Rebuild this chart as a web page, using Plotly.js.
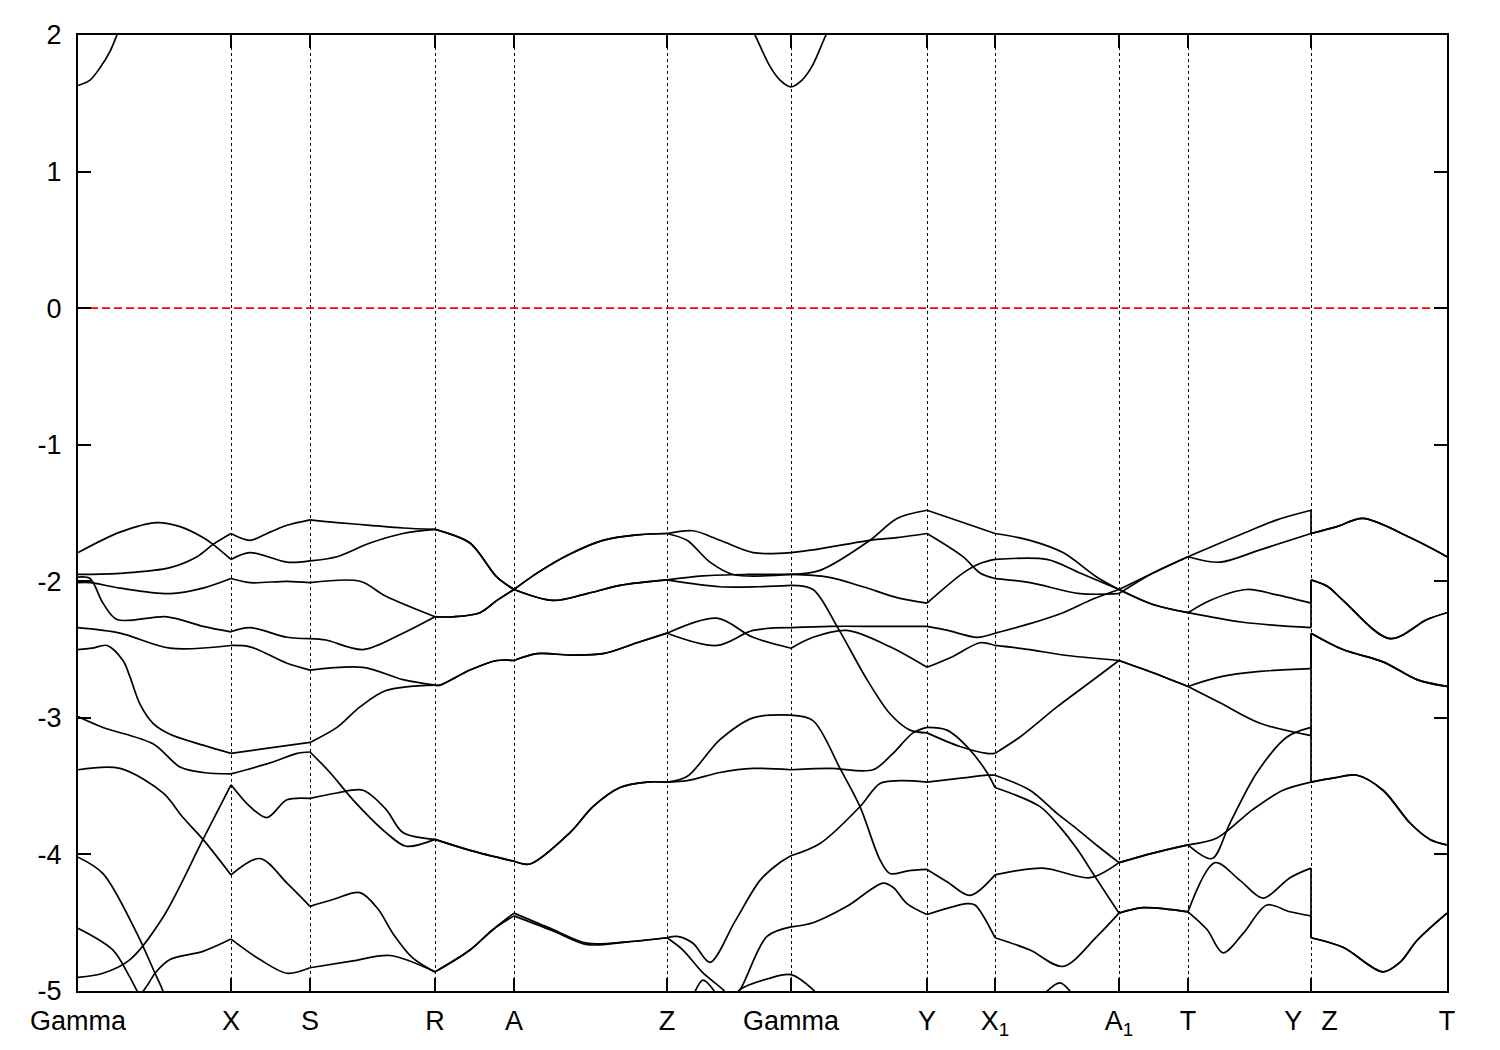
<!DOCTYPE html>
<html>
<head>
<meta charset="utf-8">
<script src="https://cdn.plot.ly/plotly-3.0.1.min.js"></script>
<style>html,body{margin:0;padding:0;background:#fff;}#chart{width:1500px;height:1050px;}</style>
</head>
<body>
<div id="chart"></div>
<script>
// High-symmetry path (path distance units) and labels
const kTicks = [0, 153, 232, 357, 436, 589, 713, 849, 917, 1041, 1110, 1233, 1369];
const kLabels = ['Gamma', 'X', 'S', 'R', 'A', 'Z', 'Gamma', 'Y', 'X<sub>1</sub>', 'A<sub>1</sub>', 'T', 'Y\u2002\u2009Z', 'T'];
const eTicks = [2, 1, 0, -1, -2, -3, -4, -5];
const fermiLevel = 0;

// Band energies (eV)
const band1K = [0,42,79,102,125,135,153, 172,209,232, 259,292,325,357, 362,392,419,436, 475,509,542,589, 625,670,713, 742,792,819,849, 885,917, 952,985,1019,1041, 1075,1110, 1165,1199,1233, 1233,1259,1285,1332,1369];
const band1E = [-1.79,-1.64,-1.57,-1.60,-1.68,-1.73,-1.84, -1.79,-1.86,-1.85, -1.82,-1.72,-1.65,-1.62, -1.63,-1.72,-1.97,-2.06, -2.14,-2.09,-2.03,-1.99, -1.96,-1.95,-1.95, -1.92,-1.70,-1.54,-1.48, -1.57,-1.65, -1.70,-1.79,-1.97,-2.06, -1.94,-1.82, -1.65,-1.55,-1.48, -1.65,-1.60,-1.54,-1.68,-1.82];

const band2K = [0,46,92,119,135,153, 172,192,209,232, 259,292,325,357, 362,392,419,436, 475,509,542,589, 642,680,713, 735,759,789,812,832,849, 882,909,917, 942,979,1010,1041, 1075,1110, 1142,1182,1233, 1233,1265,1305,1339,1369];
const band2E = [-1.95,-1.94,-1.90,-1.82,-1.73,-1.65, -1.70,-1.64,-1.59,-1.55, -1.57,-1.59,-1.61,-1.62, -1.63,-1.72,-1.97,-2.06, -2.14,-2.09,-2.03,-1.99, -2.04,-2.04,-2.03, -2.06,-2.33,-2.72,-2.97,-3.09,-3.11, -3.21,-3.26,-3.26, -3.14,-2.92,-2.75,-2.58, -2.67,-2.77, -2.89,-3.04,-3.13, -2.38,-2.50,-2.59,-2.72,-2.77];

const band3K = [0,12,25,39,89,125,153, 172,209,232, 248,285,325,357, 375,402,419,436, 459,492,525,559,589, 615,642,675,713, 735,792,819,849, 885,902,917, 952,1002,1041, 1075,1110, 1142,1182,1233, 1233,1259,1285,1332,1369];
const band3E = [-1.97,-1.98,-2.16,-2.28,-2.26,-2.33,-2.37, -2.34,-2.41,-2.42, -2.43,-2.50,-2.38,-2.26, -2.26,-2.23,-2.14,-2.06, -1.94,-1.80,-1.70,-1.66,-1.65, -1.63,-1.70,-1.79,-1.79, -1.77,-1.70,-1.68,-1.65, -1.82,-1.94,-1.98, -2.01,-2.09,-2.09, -1.94,-1.82, -1.86,-1.77,-1.65, -1.65,-1.60,-1.54,-1.68,-1.82];

const band4K = [0,12,42,92,125,153, 172,209,232, 282,308,357, 375,402,419,436, 459,492,525,559,589, 609,632,655,713, 750,785,819,849, 885,902,917, 969,1002,1041, 1075,1110, 1132,1169,1199,1233, 1233,1250,1265,1312,1349,1369];
const band4E = [-2.01,-2.01,-2.05,-2.09,-2.05,-1.98, -2.01,-2.00,-2.01, -2.00,-2.11,-2.26, -2.26,-2.23,-2.14,-2.06, -1.94,-1.80,-1.70,-1.66,-1.65, -1.70,-1.86,-1.95,-1.95, -1.97,-2.04,-2.12,-2.16, -1.94,-1.87,-1.84, -1.84,-1.94,-2.06, -2.17,-2.23, -2.14,-2.06,-2.10,-2.16, -1.99,-2.04,-2.14,-2.42,-2.28,-2.23];

const band5K = [0,42,92,153, 172,209,232, 285,325,357, 362,392,419,436, 459,492,525,559,589, 639,675,713, 735,769,812,849, 875,902,917, 952,985,1041, 1075,1110, 1142,1182,1233, 1233,1265,1305,1339,1369];
const band5E = [-2.34,-2.38,-2.49,-2.47, -2.48,-2.60,-2.65, -2.63,-2.72,-2.76, -2.76,-2.65,-2.58,-2.58, -2.53,-2.54,-2.53,-2.45,-2.38, -2.27,-2.41,-2.49, -2.41,-2.36,-2.48,-2.63, -2.55,-2.45,-2.47, -2.50,-2.54,-2.58, -2.67,-2.77, -2.70,-2.66,-2.64, -2.38,-2.50,-2.59,-2.72,-2.77];

const band6K = [0,14,29,45,52,62,75,92,125,153, 192,232, 259,282,308,357, 362,392,419,436, 459,492,525,559,589, 639,675,713, 752,802,849, 870,899,917, 952,985,1015,1041, 1075,1110, 1165,1233, 1233,1250,1265,1312,1349,1369];
const band6E = [-2.50,-2.49,-2.47,-2.58,-2.70,-2.90,-3.04,-3.12,-3.20,-3.26, -3.22,-3.18, -3.07,-2.92,-2.80,-2.76, -2.76,-2.65,-2.58,-2.58, -2.53,-2.54,-2.53,-2.45,-2.38, -2.47,-2.36,-2.34, -2.33,-2.33,-2.33, -2.36,-2.41,-2.38, -2.31,-2.23,-2.13,-2.06, -2.17,-2.23, -2.30,-2.34, -1.99,-2.04,-2.14,-2.42,-2.28,-2.23];

const band7K = [0,25,75,102,125,153, 192,219,232, 252,275,308,328,357, 392,436, 452,492,515,542,569,589, 609,642,675,713, 735,762,782,802,812,830,849, 869,892,917, 965,1012,1041, 1075,1110, 1134,1152,1179,1209,1233, 1233,1256,1279,1305,1332,1352,1369];
const band7E = [-2.99,-3.07,-3.19,-3.36,-3.40,-3.41, -3.33,-3.26,-3.25, -3.40,-3.60,-3.84,-3.94,-3.89, -3.97,-4.05, -4.07,-3.84,-3.65,-3.51,-3.47,-3.47, -3.43,-3.16,-3.00,-2.98, -3.02,-3.37,-3.65,-4.04,-4.14,-4.12,-4.11, -4.20,-4.30,-4.15, -4.10,-4.17,-4.06, -3.99,-3.93, -4.03,-3.77,-3.40,-3.14,-3.07, -3.47,-3.44,-3.42,-3.53,-3.77,-3.89,-3.93];

const band8K = [0,42,85,105,125,153, 182,209,232, 255,282,300,315,335,357, 392,415,436, 475,509,550,589, 599,615,632,657,682,700,713, 742,782,802,822,849, 885,909,917, 952,979,1000,1020,1041, 1075,1110, 1139,1175,1205,1233, 1233,1256,1279,1305,1332,1352,1369];
const band8E = [-3.38,-3.37,-3.55,-3.73,-3.89,-4.15, -4.03,-4.21,-4.38, -4.33,-4.28,-4.40,-4.58,-4.76,-4.86, -4.70,-4.55,-4.43, -4.55,-4.65,-4.64,-4.61, -4.60,-4.65,-4.79,-4.49,-4.19,-4.07,-4.01, -3.92,-3.65,-3.48,-3.46,-3.47, -3.44,-3.42,-3.42, -3.53,-3.70,-3.82,-3.94,-4.06, -3.99,-3.93, -3.88,-3.67,-3.53,-3.47, -3.47,-3.44,-3.42,-3.53,-3.77,-3.89,-3.93];

const band9K = [0,25,52,85,125,153, 172,189,209,232, 259,285,308,325,357, 392,436, 452,492,515,542,569,589, 609,642,675,713, 752,795,815,835,849, 869,889,909,917, 962,982,1000,1015,1032,1041, 1065,1110, 1137,1162,1185,1212,1233, 1233,1265,1305,1322,1339,1369];
const band9E = [-4.90,-4.87,-4.77,-4.46,-3.89,-3.49, -3.65,-3.73,-3.60,-3.59, -3.55,-3.53,-3.67,-3.84,-3.89, -3.97,-4.05, -4.07,-3.84,-3.65,-3.51,-3.47,-3.47, -3.46,-3.40,-3.37,-3.38, -3.37,-3.38,-3.26,-3.11,-3.07, -3.09,-3.21,-3.40,-3.51, -3.65,-3.80,-3.97,-4.14,-4.33,-4.43, -4.39,-4.42, -4.06,-4.19,-4.32,-4.17,-4.10, -4.61,-4.68,-4.86,-4.79,-4.63,-4.43];

const band10K = [0,35,52,62,70,77,92,125,153, 182,209,232, 275,312,357, 392,415,436, 475,509,550,589, 605,624,645,653,662,689,713, 735,769,805,815,829,849, 889,897,917, 952,985,1019,1041, 1065,1110, 1129,1145,1165,1189,1212,1233, 1233,1265,1305,1322,1339,1369];
const band10E = [-4.54,-4.70,-4.90,-5.02,-4.95,-4.87,-4.77,-4.71,-4.62, -4.77,-4.87,-4.83, -4.78,-4.74,-4.86, -4.70,-4.55,-4.45, -4.56,-4.66,-4.64,-4.61, -4.70,-4.86,-4.99,-5.05,-4.99,-4.60,-4.53, -4.50,-4.38,-4.21,-4.24,-4.36,-4.44, -4.36,-4.37,-4.61, -4.70,-4.82,-4.60,-4.43, -4.39,-4.42, -4.55,-4.72,-4.58,-4.37,-4.42,-4.45, -4.61,-4.68,-4.86,-4.79,-4.63,-4.43];

// Pieces of bands dipping in from below the window
const band11K = [0,25,59,77,85,95];
const band11E = [-4.02,-4.14,-4.58,-4.87,-5.00,-5.20];
const band12K = [615,625,640];
const band12E = [-5.04,-4.92,-5.04];
const band13K = [655,662,690,713,735,745];
const band13E = [-5.08,-4.99,-4.91,-4.88,-4.99,-5.08];
const band14K = [965,982,995];
const band14E = [-5.03,-4.94,-5.03];

// Conduction band minima near Gamma
const cond1K = [0,12,22,32,39,45];
const cond1E = [1.63,1.67,1.76,1.88,2.00,2.10];
const cond2K = [670,677,692,702,713,724,734,748,755];
const cond2E = [2.10,2.00,1.77,1.67,1.62,1.67,1.77,2.00,2.10];

const mainBands = [
  ['b1', band1K, band1E], ['b2', band2K, band2E], ['b3', band3K, band3E], ['b4', band4K, band4E],
  ['b5', band5K, band5E], ['b6', band6K, band6E], ['b7', band7K, band7E], ['b8', band8K, band8E],
  ['b9', band9K, band9E], ['b10', band10K, band10E]
];
const extraBands = [
  ['b11', band11K, band11E], ['b12', band12K, band12E], ['b13', band13K, band13E], ['b14', band14K, band14E],
  ['c1', cond1K, cond1E], ['c2', cond2K, cond2E]
];

const symSet = new Set(kTicks);
function splitAtSym(K, E) {
  const x = [], y = [];
  for (let i = 0; i < K.length; i++) {
    x.push(K[i]); y.push(E[i]);
    if (i > 0 && i < K.length - 1 && symSet.has(K[i])) {
      x.push(null); y.push(null);
      x.push(K[i]); y.push(E[i]);
    }
  }
  return {x, y};
}

const lineStyle = {color: '#000', width: 1.7, shape: 'spline', smoothing: 0.9};
const traces = [];
mainBands.forEach(([name, K, E]) => {
  if (K.length !== E.length) throw new Error(name + ' length mismatch ' + K.length + ' vs ' + E.length);
  const s = splitAtSym(K, E);
  traces.push({type: 'scatter', mode: 'lines', x: s.x, y: s.y, line: lineStyle, connectgaps: false, hoverinfo: 'skip'});
});
extraBands.forEach(([name, K, E]) => {
  if (K.length !== E.length) throw new Error(name + ' length mismatch');
  traces.push({type: 'scatter', mode: 'lines', x: K, y: E, line: lineStyle, hoverinfo: 'skip'});
});
// Fermi level
traces.push({type: 'scatter', mode: 'lines', x: [kTicks[0], kTicks[kTicks.length - 1]], y: [fermiLevel, fermiLevel],
  line: {color: '#ff0000', width: 1.6, dash: '8px,4px'}, hoverinfo: 'skip'});

const fontFam = '"Liberation Sans", Arial, Helvetica, sans-serif';
const layout = {
  width: 1500, height: 1050,
  margin: {l: 78, r: 53, t: 35, b: 59, pad: 0},
  paper_bgcolor: '#fff', plot_bgcolor: '#fff',
  showlegend: false,
  font: {family: fontFam, size: 27, color: '#000'},
  xaxis: {
    range: [kTicks[0], kTicks[kTicks.length - 1]],
    tickmode: 'array', tickvals: kTicks, ticktext: kLabels,
    ticks: 'inside', ticklen: 13, tickwidth: 2, tickcolor: '#000',
    showline: true, linecolor: '#000', linewidth: 2, mirror: 'ticks',
    showgrid: true, gridcolor: '#000', gridwidth: 1, griddash: 'dot',
    zeroline: false, tickfont: {family: fontFam, size: 27, color: '#000'},
    ticklabelstandoff: 5
  },
  yaxis: {
    range: [eTicks[eTicks.length - 1], eTicks[0]],
    tickmode: 'array', tickvals: eTicks, ticktext: eTicks.map(v => String(v)),
    ticks: 'inside', ticklen: 13, tickwidth: 2, tickcolor: '#000',
    showline: true, linecolor: '#000', linewidth: 2, mirror: 'ticks',
    showgrid: false, zeroline: false,
    tickfont: {family: fontFam, size: 27, color: '#000'},
    ticklabelstandoff: 9
  }
};

Plotly.newPlot('chart', traces, layout, {displayModeBar: false, staticPlot: true});
</script>
</body>
</html>
